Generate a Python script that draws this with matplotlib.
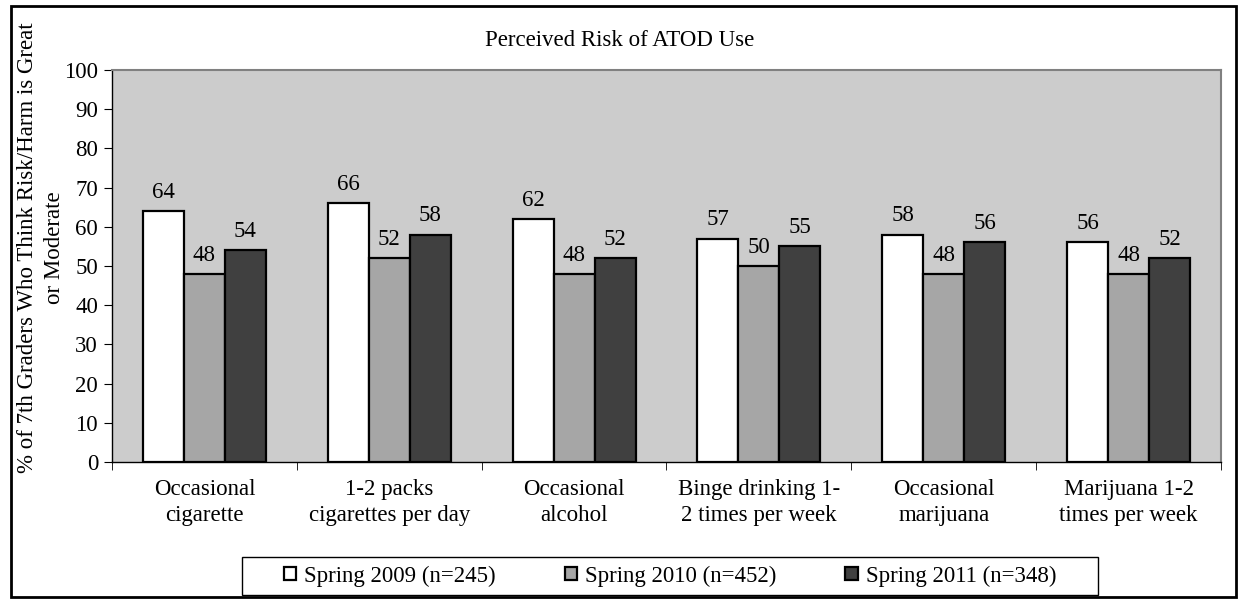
"""Perceived risk of ATOD use among 7th graders, three survey waves."""
import matplotlib
matplotlib.use("Agg")
import matplotlib.pyplot as plt
from matplotlib.patches import Rectangle
import numpy as np

categories = [
    "Occasional\ncigarette",
    "1-2 packs\ncigarettes per day",
    "Occasional\nalcohol",
    "Binge drinking 1-\n2 times per week",
    "Occasional\nmarijuana",
    "Marijuana 1-2\ntimes per week",
]
series_names = ["Spring 2009 (n=245)", "Spring 2010 (n=452)", "Spring 2011 (n=348)"]
spring_2009 = [64, 66, 62, 57, 58, 56]
spring_2010 = [48, 52, 48, 50, 48, 48]
spring_2011 = [54, 58, 52, 55, 56, 52]
colors = ["#FFFFFF", "#A6A6A6", "#404040"]

plt.rcParams["font.family"] = ["Liberation Serif", "DejaVu Serif"]
plt.rcParams["font.size"] = 16.5

W, H = 1238, 600
fig = plt.figure(figsize=(W / 100, H / 100), dpi=100)
ax = fig.add_axes([112 / W, 1 - 462 / H, (1221 - 112) / W, (462 - 70) / H])
ax.set_facecolor("#CCCCCC")

x = np.arange(len(categories))
width = 0.222
for i, (vals, name) in enumerate(zip([spring_2009, spring_2010, spring_2011], series_names)):
    bars = ax.bar(x + (i - 1) * width, vals, width, color=colors[i],
                  edgecolor="black", linewidth=1.6, label=name, zorder=3)
    for b, v in zip(bars, vals):
        ax.annotate(str(v), (b.get_x() + b.get_width() / 2, v), xytext=(0, 6),
                    textcoords="offset points", ha="center", va="bottom")

ax.set_xlim(-0.5, len(categories) - 0.5)
ax.set_ylim(0, 100)
ax.set_yticks(range(0, 101, 10))
ax.set_xticks(np.arange(len(categories) + 1) - 0.5, minor=True)
ax.set_xticks(x)
ax.set_xticklabels(categories, linespacing=1.35)
ax.tick_params(axis="x", which="major", length=0, pad=12)
ax.tick_params(axis="x", which="minor", length=6, color="black")
ax.tick_params(axis="y", length=6, color="black", pad=4)

for side in ["top", "right"]:
    ax.spines[side].set_color("#808080")
    ax.spines[side].set_linewidth(1.5)
for side in ["left", "bottom"]:
    ax.spines[side].set_color("black")
    ax.spines[side].set_linewidth(1.0)

fig.text(620 / W, 1 - 40 / H, "Perceived Risk of ATOD Use", ha="center", va="center")
fig.text(41 / W, 1 - 248 / H,
         "% of 7th Graders Who Think Risk/Harm is Great\nor Moderate",
         rotation=90, ha="center", va="center", linespacing=1.35)

# legend box drawn by hand so horizontal and vertical padding can differ
fig.legend(loc="center", bbox_to_anchor=(670 / W, 1 - 576 / H), ncol=3,
           frameon=False, handlelength=0.55, handleheight=0.55,
           handletextpad=0.35, columnspacing=3.0, borderpad=0.2)
fig.patches.append(Rectangle((242 / W, 1 - 595 / H), (1098 - 242) / W, 38 / H,
                             transform=fig.transFigure, fill=False,
                             edgecolor="black", linewidth=1.0))

fig.patches.append(Rectangle((11 / W, 3 / H), (1236 - 11) / W, (594 - 3) / H,
                             transform=fig.transFigure, fill=False,
                             edgecolor="black", linewidth=2))

fig.savefig("out.png", dpi=100)
